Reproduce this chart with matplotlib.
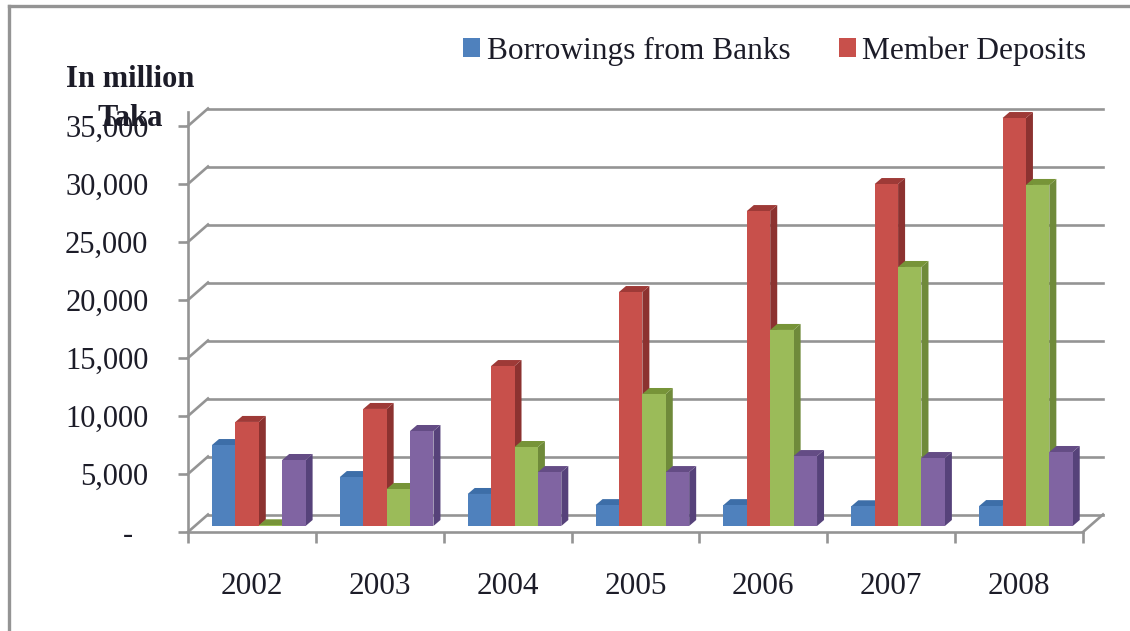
import matplotlib
matplotlib.use('Agg')
import matplotlib.pyplot as plt
from matplotlib.lines import Line2D

years = ['2002', '2003', '2004', '2005', '2006', '2007', '2008']
borrowings = [6980, 4220, 2760, 1800, 1800, 1700, 1720]
deposits = [8970, 10090, 13790, 20170, 27150, 29480, 35170]
series3 = [60, 3190, 6810, 11380, 16900, 22330, 29400]
series4 = [5690, 8190, 4650, 4650, 6030, 5860, 6380]
yticks = [0, 5000, 10000, 15000, 20000, 25000, 30000, 35000]
ylabels = ['-  ', '5,000', '10,000', '15,000', '20,000', '25,000', '30,000', '35,000']

plt.rcParams['font.family'] = ['Liberation Serif', 'DejaVu Serif']

W, H = 1130, 631
GREY = '#949494'
TEXT = '#1c1c28'

# pixel to data scale of the front plane
px_x = 7 / 895
px_y = 5000 / 58

fig = plt.figure(figsize=(W / 100, H / 100), dpi=100)
ax = fig.add_axes([188 / W, (H - 532) / H, 895 / W, 420 / H])
ax.set_xlim(0, 7)
ax.set_ylim(0, 420 * px_y)

# back wall, floor and the slanted links
wall_dx = 20 * px_x
wall_dy = 17.5 * px_y
for t in yticks:
    ax.plot([wall_dx, 7 + wall_dx], [t + wall_dy, t + wall_dy], color=GREY, lw=1.9, clip_on=False, zorder=1)
    ax.plot([0, wall_dx], [t, t + wall_dy], color=GREY, lw=1.9, clip_on=False, zorder=1)
ax.plot([7, 7 + wall_dx], [0, wall_dy], color=GREY, lw=1.9, clip_on=False, zorder=1)

# bars, drawn left to right so each front covers the neighbour's side
bar_w = 23.4 * px_x
bar_start = 24 * px_x
base = 6 * px_y
side_dx = 7 * px_x
side_dy = 6 * px_y
all_series = [
    (borrowings, '#4f81bd', '#38649b', '#3d6ea8', 'Borrowings from Banks'),
    (deposits, '#c8504b', '#8c3230', '#9e3a37', 'Member Deposits'),
    (series3, '#9bbb59', '#6f8a3a', '#779438', None),
    (series4, '#8064a2', '#56427a', '#644c85', None),
]

z = 3
for i in range(len(years)):
    for s, (vals, col, side, top, lab) in enumerate(all_series):
        x0 = i + bar_start + s * bar_w
        x1 = x0 + bar_w
        v = vals[i] + base
        ax.fill([x1, x1 + side_dx, x1 + side_dx, x1],
                [base, base + side_dy, v + side_dy, v],
                color=side, lw=0, clip_on=False, zorder=z)
        ax.fill([x0, x0 + side_dx, x1 + side_dx, x1],
                [v, v + side_dy, v + side_dy, v],
                color=top, lw=0, clip_on=False, zorder=z)
        ax.bar(x0, vals[i], width=bar_w, bottom=base, align='edge', color=col,
               clip_on=False, zorder=z + 0.5, label=lab if i == 0 else None)
        z += 1

# axes
for name in ['top', 'right']:
    ax.spines[name].set_visible(False)
for name in ['left', 'bottom']:
    ax.spines[name].set_color(GREY)
    ax.spines[name].set_linewidth(1.9)
    ax.spines[name].set_zorder(2)
ax.set_yticks(yticks)
ax.set_yticklabels(ylabels)
ax.set_xticks(range(8))
ax.set_xticklabels([])
ax.set_xticks([i + 0.5 for i in range(7)], minor=True)
ax.set_xticklabels(years, minor=True)
ax.tick_params(axis='y', length=7.5, width=1.9, color=GREY, labelsize=22, labelcolor=TEXT, pad=21)
ax.tick_params(axis='x', which='major', length=8, width=1.9, color=GREY)
ax.tick_params(axis='x', which='minor', length=0, labelsize=22.5, labelcolor=TEXT, pad=29)

leg = ax.legend(loc='upper left', bbox_to_anchor=(463 / W, 1 - 36 / H), bbox_transform=fig.transFigure,
                ncol=2, frameon=False, fontsize=22.6, labelcolor=TEXT, handlelength=0.55,
                handleheight=0.55, handletextpad=0.2, columnspacing=1.55, borderpad=0, borderaxespad=0)
leg.set_zorder(100)

fig.text(130 / W, 1 - 99 / H, 'In million\nTaka', ha='center', va='center', ma='center',
         fontsize=22, fontweight='bold', color=TEXT, linespacing=1.45)

# outer frame of the picture
fig.add_artist(Line2D([9 / W, 9 / W], [0, 1 - 6 / H], color=GREY, lw=2.4))
fig.add_artist(Line2D([9 / W, 1], [1 - 6 / H, 1 - 6 / H], color=GREY, lw=2.4))

fig.savefig('out.png', dpi=100)
